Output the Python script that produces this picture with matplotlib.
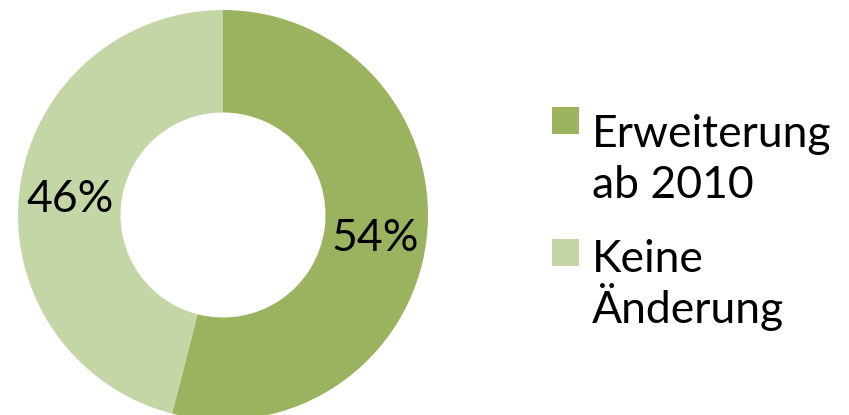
import matplotlib
matplotlib.use("Agg")
import matplotlib.pyplot as plt
from matplotlib.patches import Rectangle

# data
labels = ["Erweiterung\nab 2010", "Keine\nÄnderung"]
shares = [54, 46]
colors = ["#9bb25f", "#c5d6a6"]

plt.rcParams['font.family'] = ['Lato', 'DejaVu Sans']

W, H = 849, 415
fig = plt.figure(figsize=(W / 100, H / 100), dpi=100)
ax = fig.add_axes([0, 0, 1, 1])

wedges, texts, autotexts = ax.pie(
    shares, colors=colors, startangle=90, counterclock=False,
    center=(223, H - 215), radius=205,
    wedgeprops=dict(width=102.5, linewidth=0),
    autopct=lambda p: f"{p:.0f}%", pctdistance=0.75,
    textprops=dict(fontsize=32, color="black", va="center_baseline"),
)
ax.set_xlim(0, W)
ax.set_ylim(0, H)
ax.set_aspect("equal")
ax.axis("off")

# legend drawn by hand: square next to the first line of each label
sq = 27
sq_tops = [107, 239]
baselines = [147, 272]
for lab, col, top, base in zip(labels, colors, sq_tops, baselines):
    fig.patches.append(Rectangle((552 / W, 1 - (top + sq) / H), sq / W, sq / H,
                                 transform=fig.transFigure, facecolor=col, edgecolor="none"))
    for j, line in enumerate(lab.split("\n")):
        fig.text(592 / W, 1 - (base + j * 51) / H, line, fontsize=32,
                 va="baseline", ha="left")

fig.savefig("out.png", dpi=100)
